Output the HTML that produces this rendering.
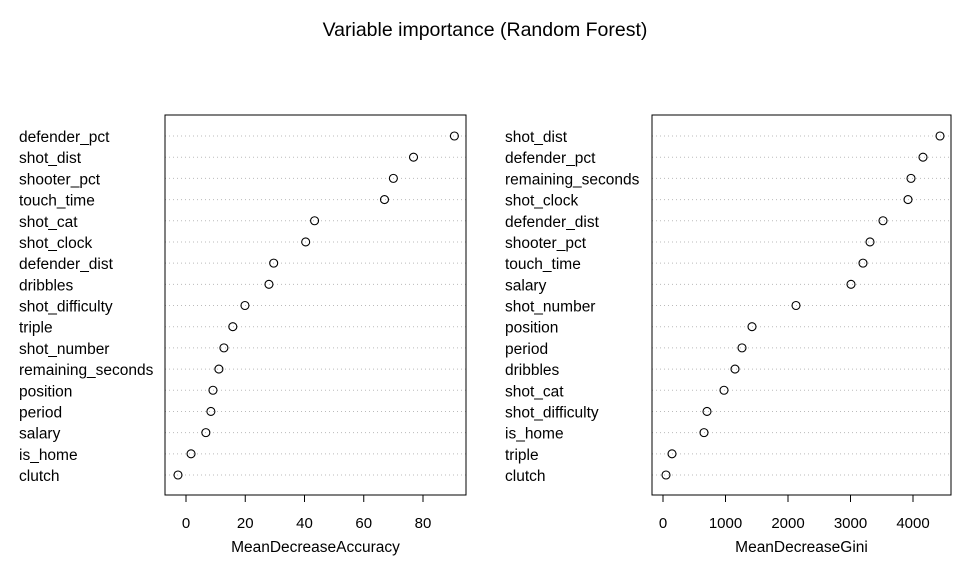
<!DOCTYPE html>
<html><head><meta charset="utf-8"><style>
body{margin:0;background:#fff}
svg{font-family:"Liberation Sans",Arial,sans-serif}
</style></head><body>
<svg id="c" width="971" height="573" xmlns="http://www.w3.org/2000/svg">
<text x="485" y="36" font-size="19.5" text-anchor="middle">Variable importance (Random Forest)</text>
</svg>
<script>
const accLabels=["defender_pct","shot_dist","shooter_pct","touch_time","shot_cat","shot_clock","defender_dist","dribbles","shot_difficulty","triple","shot_number","remaining_seconds","position","period","salary","is_home","clutch"];
const accValues=[90.6,76.8,70,67,43.4,40.4,29.6,28,19.9,15.8,12.8,11.1,9.1,8.4,6.7,1.7,-2.7];
const accTicks=[0,20,40,60,80];
const giniLabels=["shot_dist","defender_pct","remaining_seconds","shot_clock","defender_dist","shooter_pct","touch_time","salary","shot_number","position","period","dribbles","shot_cat","shot_difficulty","is_home","triple","clutch"];
const giniValues=[4432,4160,3968,3920,3520,3312,3200,3008,2128,1424,1264,1152,976,704,656,144,48];
const giniTicks=[0,1000,2000,3000,4000];
const svg=document.getElementById('c');
const NS="http://www.w3.org/2000/svg";
function mk(t,a,p){const e=document.createElementNS(NS,t);for(const k in a)e.setAttribute(k,a[k]);(p||svg).appendChild(e);return e;}
function panel(name,labels,values,ticks,x0,x1,v0,v1,labelX,axisTitle){
  const g=mk('g',{});
  
  
  const top=115,bot=495,y0=136,y1=475;
  const sx=v=>x0+(v-v0)/(v1-v0)*(x1-x0);
  const n=labels.length;
  const sy=i=>y0+i*(y1-y0)/(n-1);
  const boxL=name==='accuracy'?165:652, boxR=name==='accuracy'?466:951;
  labels.forEach((l,i)=>{
    const y=sy(i);
    const ln=mk('line',{x1:boxL,x2:boxR,y1:y,y2:y,stroke:'#bbb','stroke-dasharray':'1,3','stroke-width':1},g);
    
    
    const t=mk('text',{x:labelX,y:y+6,'font-size':15.5},g);t.textContent=l;
    
    
    const c=mk('circle',{cx:sx(values[i]),cy:y,r:4,fill:'none',stroke:'#000','stroke-width':1.1},g);
    
    
  });
  const r=mk('rect',{x:boxL,y:top,width:boxR-boxL,height:bot-top,fill:'none',stroke:'#000'},g);
  
  
  const ax=mk('line',{x1:sx(ticks[0]),x2:sx(ticks[ticks.length-1]),y1:bot,y2:bot,stroke:'#000'},g);
  
  
  ticks.forEach(tv=>{
    const tm=mk('line',{x1:sx(tv),x2:sx(tv),y1:bot,y2:bot+7,stroke:'#000'},g);
    
    
    const tl=mk('text',{x:sx(tv),y:528,'font-size':15,'text-anchor':'middle'},g);tl.textContent=tv;
    
    
  });
  const at=mk('text',{x:(boxL+boxR)/2,y:552,'font-size':15.5,'text-anchor':'middle'},g);at.textContent=axisTitle;
  
  
}
panel('accuracy',accLabels,accValues,accTicks,186,423,0,80,19,'MeanDecreaseAccuracy');
panel('gini',giniLabels,giniValues,giniTicks,663,913,0,4000,505,'MeanDecreaseGini');
</script>
</body></html>
